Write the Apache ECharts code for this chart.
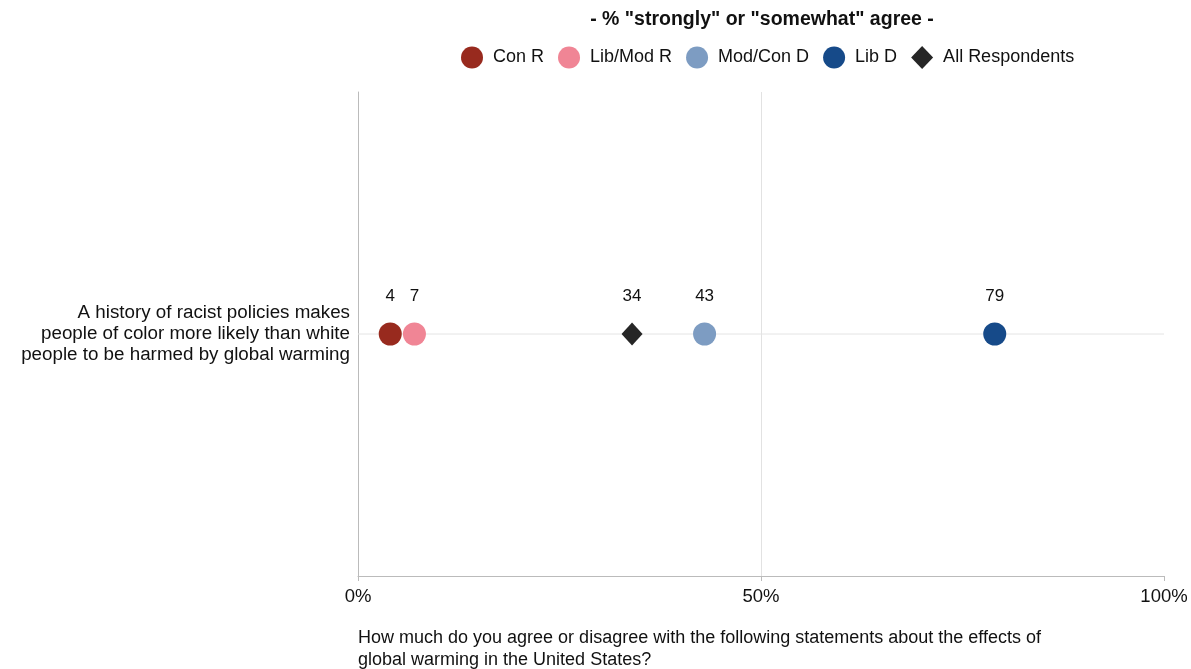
<!DOCTYPE html>
<html><head><meta charset="utf-8">
<script src="https://cdn.jsdelivr.net/npm/echarts@6/dist/echarts.min.js"></script>
<style>html,body{margin:0;padding:0;background:#fff}#c{width:1191px;height:669px}</style>
</head><body><div id="c"></div>
<script>
const categories = ["A history of racist policies makes\npeople of color more likely than white\npeople to be harmed by global warming"];
const seriesNames = ["Con R", "Lib/Mod R", "Mod/Con D", "Lib D", "All Respondents"];
const conR = [4];
const libModR = [7];
const modConD = [43];
const libD = [79];
const allResp = [34];
const xTicks = [0, 50, 100];

const colors = ["#982a1e", "#f08595", "#7d9cc2", "#164a89", "#262626"];
const values = [conR, libModR, modConD, libD, allResp];
const fontFam = "Liberation Sans, Arial, sans-serif";

const chart = echarts.init(document.getElementById('c'));
const series = seriesNames.map((n, i) => ({
  name: n, type: 'scatter',
  symbol: i === 4 ? 'diamond' : 'circle',
  symbolSize: i === 4 ? [21, 23] : 23,
  itemStyle: {color: colors[i], opacity: 1},
  label: {show: true, position: 'top', distance: 18, fontSize: 17, color: '#111', fontFamily: fontFam,
    formatter: p => p.value[0]},
  data: values[i].map((v, j) => [v, categories[j]]),
  z: 3
}));
series.push({
  name: 'rowline', type: 'line', silent: true, symbol: 'none', z: 1,
  lineStyle: {color: '#e4e4e4', width: 1},
  data: [[0, categories[0]], [100, categories[0]]]
});

chart.setOption({
  animation: false,
  textStyle: {fontFamily: fontFam},
  legend: {
    top: 41, left: 456,
    itemWidth: 22, itemHeight: 23, itemGap: 14,
    textStyle: {fontSize: 18, color: '#111', fontFamily: fontFam},
    formatter: n => ' ' + n,
    data: seriesNames.map((n, i) => ({name: n, icon: i === 4 ? 'diamond' : 'circle'}))
  },
  grid: {left: 358, right: 27, top: 92, bottom: 93},
  xAxis: {
    type: 'value', min: 0, max: 100, interval: 50,
    axisLine: {show: true, lineStyle: {color: '#bbbbbb', width: 1}},
    axisTick: {show: true, length: 5, lineStyle: {color: '#bbbbbb'}},
    axisLabel: {formatter: v => xTicks.includes(v) ? v + '%' : '', fontSize: 18.5, color: '#111', margin: 11, fontFamily: fontFam},
    splitLine: {show: true, showMinLine: false, showMaxLine: false, lineStyle: {color: '#e2e2e2'}}
  },
  yAxis: {
    type: 'category', data: categories,
    axisLine: {show: true, lineStyle: {color: '#bbbbbb'}},
    axisTick: {show: false},
    axisLabel: {fontSize: 18.8, color: '#111', lineHeight: 21, margin: 8, align: 'right', fontFamily: fontFam},
    splitLine: {show: false}
  },
  series: series,
  graphic: [
    {type: 'text', x: 762, y: 10, style: {text: '- % "strongly" or "somewhat" agree -', fontSize: 19.5, fontWeight: 'bold', fill: '#111', fontFamily: fontFam, align: 'center'}},
    {type: 'text', left: 358, top: 627, style: {text: 'How much do you agree or disagree with the following statements about the effects of\nglobal warming in the United States?', fontSize: 18, lineHeight: 22, fill: '#111', fontFamily: fontFam}}
  ]
});
</script></body></html>
